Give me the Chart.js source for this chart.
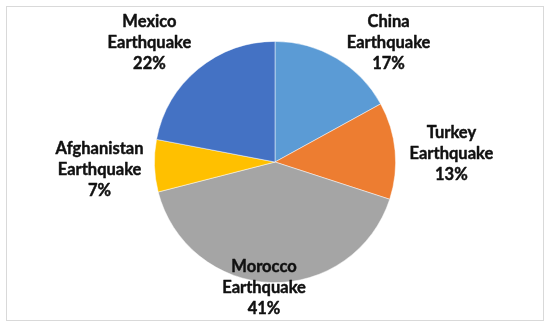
<!DOCTYPE html>
<html>
<head>
<meta charset="utf-8">
<script src="https://cdn.jsdelivr.net/npm/chart.js@4.4.0/dist/chart.umd.min.js"></script>
<style>
  html, body { margin: 0; padding: 0; background: #ffffff; }
  #wrap { width: 550px; height: 329px; }
</style>
</head>
<body>
<div id="wrap"><canvas id="c" width="550" height="329"></canvas></div>
<script>
// ---- Data ----
const categories = ['China Earthquake', 'Turkey Earthquake', 'Morocco Earthquake', 'Afghanistan Earthquake', 'Mexico Earthquake'];
const values = [17, 13, 41, 7, 22];
const colors = ['#5B9BD5', '#ED7D31', '#A5A5A5', '#FFC000', '#4472C4'];

// label placement relative to each slice (angle offset in degrees, distance as fraction of radius)
const labelAngleOffset = [12.9, 2.8, 3.2, -0.8, -6.8];
const labelRadiusFactor = [1.368, 1.464, 1.045, 1.456, 1.438];

const frame = {
  id: 'frame',
  beforeDraw(chart) {
    const ctx = chart.ctx;
    ctx.save();
    ctx.fillStyle = '#ffffff';
    ctx.fillRect(0, 0, chart.width, chart.height);
    ctx.strokeStyle = '#d9d9d9';
    ctx.lineWidth = 1;
    ctx.strokeRect(6.5, 6.5, chart.width - 13, chart.height - 15);
    ctx.restore();
  }
};

const pieLabels = {
  id: 'pieLabels',
  afterDatasetsDraw(chart) {
    const ctx = chart.ctx;
    const meta = chart.getDatasetMeta(0);
    const data = chart.data.datasets[0].data;
    const total = data.reduce((a, b) => a + b, 0);
    ctx.save();
    ctx.font = 'bold 16.5px Lato';
    ctx.fillStyle = '#111111';
    ctx.strokeStyle = '#111111';
    ctx.lineWidth = 0.45;
    ctx.lineJoin = 'round';
    ctx.textAlign = 'center';
    ctx.textBaseline = 'middle';
    const lh = 21;
    meta.data.forEach((arc, i) => {
      const p = arc.getProps(['x', 'y', 'startAngle', 'endAngle', 'outerRadius'], true);
      const mid = (p.startAngle + p.endAngle) / 2 + labelAngleOffset[i] * Math.PI / 180;
      const r = p.outerRadius * labelRadiusFactor[i];
      const cx = p.x + Math.cos(mid) * r;
      const cy = p.y + Math.sin(mid) * r;
      const words = chart.data.labels[i].split(' ');
      const pct = Math.round(data[i] / total * 100) + '%';
      const lines = [...words, pct];
      const top = cy - (lines.length - 1) * lh / 2;
      lines.forEach((t, k) => {
        ctx.fillText(t, cx, top + k * lh);
        ctx.strokeText(t, cx, top + k * lh);
      });
    });
    ctx.restore();
  }
};

new Chart(document.getElementById('c'), {
  type: 'pie',
  data: {
    labels: categories,
    datasets: [{
      data: values,
      backgroundColor: colors,
      borderColor: 'rgba(255,255,255,0.6)',
      borderWidth: 0.8
    }]
  },
  options: {
    responsive: false,
    animation: false,
    devicePixelRatio: 1,
    layout: { padding: { top: 41, bottom: 46, left: 0, right: 0 } },
    plugins: {
      legend: { display: false },
      tooltip: { enabled: false },
      title: { display: false }
    }
  },
  plugins: [frame, pieLabels]
});
</script>
</body>
</html>
